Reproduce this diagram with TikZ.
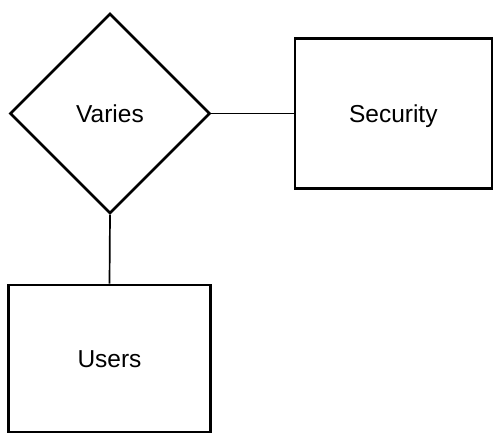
\documentclass[tikz,border=0pt]{standalone}
\usepackage{fontspec}
\setmainfont{Liberation Sans}
\usetikzlibrary{shapes.geometric}
\begin{document}
\begin{tikzpicture}[x=1pt,y=-1pt,
  label text/.style={font=\fontsize{24.5}{28}\selectfont, text height=17.5pt, text depth=0pt},
  entity/.style={draw, line width=2.6pt, inner sep=0pt, label text},
  relation/.style={draw, diamond, aspect=1, line width=2.6pt, inner sep=0pt,
    minimum width=200pt, minimum height=200pt, label text},
  link/.style={draw, line width=1.7pt}]
  \useasboundingbox (0,0) rectangle (493,434);
  % relationship
  \node[relation] (varies) at (110,113.5) {Varies};
  % entities
  \node[entity, minimum width=197pt, minimum height=150pt] (security) at (393.3,113.5) {Security};
  \node[entity, minimum width=202pt, minimum height=147pt] (users) at (109.5,358.5) {Users};
  % connectors
  \draw[link] (varies.east) -- (security.west);
  \draw[link] (varies.south) -- (users.north);
\end{tikzpicture}
\end{document}
